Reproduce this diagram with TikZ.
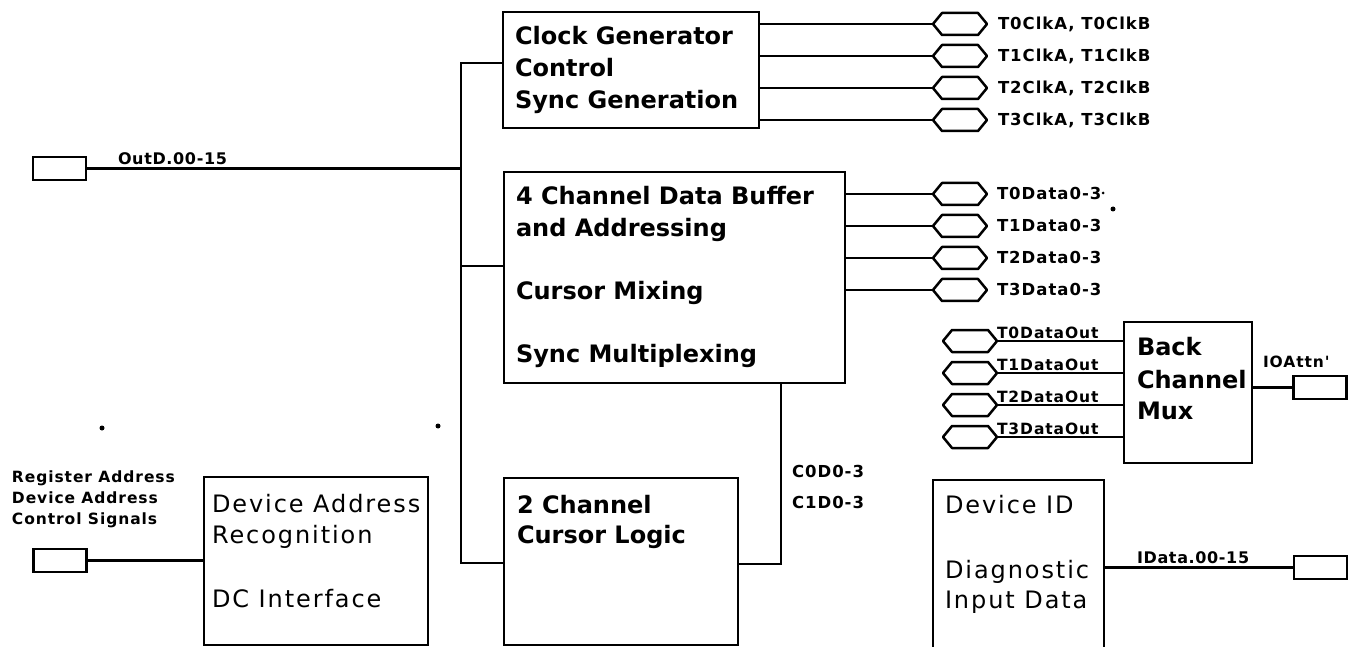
\documentclass[tikz,border=0pt]{standalone}
\usepackage{fontspec}
\setmainfont{DejaVu Sans}
\newfontfamily\wideboxfont{DejaVu Sans}[LetterSpace=8]
\newfontfamily\sigfont{DejaVu Sans}[LetterSpace=6]
\newfontfamily\busfont{DejaVu Sans}[LetterSpace=4]
\usetikzlibrary{calc}

\tikzset{
  every node/.style={inner sep=0pt, outer sep=0pt},
  blk/.style={draw, line width=2.8pt},
  wire/.style={line width=2.8pt},
  hexline/.style={line width=2.5pt, line join=round},
  hexp/.style={minimum width=54pt, minimum height=22pt},
  port/.style={draw, line width=2.4pt, minimum width=53pt, minimum height=23pt},
  boxbold/.style={anchor=base west, font={\bfseries\fontsize{24}{24}\selectfont}},
  boxreg/.style={anchor=base west, font={\wideboxfont\fontsize{24}{24}\selectfont}},
  siglbl/.style={anchor=base west, font={\sigfont\bfseries\fontsize{16.5}{17}\selectfont}},
  smalllbl/.style={anchor=base west, font={\sigfont\bfseries\fontsize{15.5}{16}\selectfont}},
  buslbl/.style={anchor=base west, font={\busfont\bfseries\fontsize{16}{16}\selectfont}},
  speck/.style={fill=black, circle, minimum size=5pt}
}

\begin{document}
\begin{tikzpicture}[x=1pt, y=-1pt]
\useasboundingbox (0,0) rectangle (1353,647);
\clip (0,0) rectangle (1353,647);

% ---------- function blocks ----------
\node[blk, minimum width=256pt, minimum height=116pt] (clk) at (631,70) {};
\node[blk, minimum width=341pt, minimum height=211pt] (buf) at (674.5,277.5) {};
\node[blk, minimum width=234pt, minimum height=167pt] (cur) at (621,561.5) {};
\node[blk, minimum width=224pt, minimum height=168pt] (dev) at (316,561) {};
\node[blk, minimum width=128pt, minimum height=141pt] (back) at (1188,392.5) {};
\node[blk, minimum width=171pt, minimum height=180pt] (devid) at (1018.5,570) {};

% ---------- block texts ----------
\node[boxbold] (clkA) at (515,45)  {Clock Generator};
\node[boxbold] (clkB) at (515,77)  {Control};
\node[boxbold] (clkC) at (515,109) {Sync Generation};

\node[boxbold] (bufA) at (516,205) {4 Channel Data Buffer};
\node[boxbold] (bufB) at (516,237) {and Addressing};
\node[boxbold] (bufC) at (516,300) {Cursor Mixing};
\node[boxbold] (bufD) at (516,362) {Sync Multiplexing};

\node[boxbold] (curA) at (517,513) {2 Channel};
\node[boxbold] (curB) at (517,543) {Cursor Logic};

\node[boxreg] (devA) at (212,512) {Device Address};
\node[boxreg] (devB) at (212,543) {Recognition};
\node[boxreg] (devC) at (212,607) {DC Interface};

\node[boxbold] (backA) at (1137,355) {Back};
\node[boxbold] (backB) at (1137,388) {Channel};
\node[boxbold] (backC) at (1137,419) {Mux};

\node[boxreg] (idA) at (945,513) {Device ID};
\node[boxreg] (idB) at (945,578) {Diagnostic};
\node[boxreg] (idC) at (945,608) {Input Data};

% ---------- board connectors ----------
\node[port] (outp) at (59.5,168.5) {};
\node[port] (devp) at (60,560.5) {};
\node[port] (iop)  at (1320,387.5) {};
\node[port] (idp)  at (1320.5,567.5) {};

% ---------- hexagonal signal ports ----------
\node[hexp] (c0) at (960,24) {};
\node[hexp] (c1) at (960,56) {};
\node[hexp] (c2) at (960,88) {};
\node[hexp] (c3) at (960,120) {};
\node[hexp] (d0) at (960,194) {};
\node[hexp] (d1) at (960,226) {};
\node[hexp] (d2) at (960,258) {};
\node[hexp] (d3) at (960,290) {};
\node[hexp] (b0) at (970,341) {};
\node[hexp] (b1) at (970,373) {};
\node[hexp] (b2) at (970,405) {};
\node[hexp] (b3) at (970,437) {};
\foreach \h in {c0,c1,c2,c3,d0,d1,d2,d3,b0,b1,b2,b3}
  \draw[hexline] (\h.west) -- ($(\h.north west)+(9,0)$) -- ($(\h.north east)+(-9,0)$)
    -- (\h.east) -- ($(\h.south east)+(-9,0)$) -- ($(\h.south west)+(9,0)$) -- cycle;

% ---------- internal bus ----------
\coordinate (bustop) at (461,63);
\coordinate (busdat) at (461,266);
\coordinate (busbot) at (461,563);
\draw[wire] (clk.west |- bustop) -- (bustop) -- (busbot) -- (cur.west |- busbot);
\draw[wire] (busdat) -- (buf.west |- busdat);
\draw[wire] (outp.east) -- (outp.east -| bustop);

% cursor data back into the buffer
\coordinate (cdturn) at (781,564);
\draw[wire] (buf.south -| cdturn) -- (cdturn) -- (cur.east |- cdturn);

% clock and data outputs
\foreach \h in {c0,c1,c2,c3}
  \draw[wire] (clk.east |- \h.west) -- (\h.west);
\foreach \h in {d0,d1,d2,d3}
  \draw[wire] (buf.east |- \h.west) -- (\h.west);
% back channel inputs
\foreach \h in {b0,b1,b2,b3}
  \draw[wire] (\h.east) -- (back.west |- \h.east);

\draw[wire] (devp.east) -- (dev.west |- devp.east);
\draw[wire] (back.east |- iop.west) -- (iop.west);
\draw[wire] (devid.east |- idp.west) -- (idp.west);

% ---------- signal labels ----------
\node[buslbl] (outdl) at (118,165) {OutD.00-15};
\node[buslbl] (idatl) at (1137,563) {IData.00-15};

\node[siglbl] (cl0) at (998,29.5)  {T0ClkA, T0ClkB};
\node[siglbl] (cl1) at (998,61.5)  {T1ClkA, T1ClkB};
\node[siglbl] (cl2) at (998,93.5)  {T2ClkA, T2ClkB};
\node[siglbl] (cl3) at (998,125.5) {T3ClkA, T3ClkB};

\node[siglbl] (dl0) at (997,199.5) {T0Data0-3};
\node[siglbl] (dl1) at (997,231.5) {T1Data0-3};
\node[siglbl] (dl2) at (997,263.5) {T2Data0-3};
\node[siglbl] (dl3) at (997,295.5) {T3Data0-3};

\node[smalllbl] (bl0) at (997,338.5) {T0DataOut};
\node[smalllbl] (bl1) at (997,370.5) {T1DataOut};
\node[smalllbl] (bl2) at (997,402.5) {T2DataOut};
\node[smalllbl] (bl3) at (997,434.5) {T3DataOut};

\node[smalllbl] (ioal) at (1263,367) {IOAttn'};

\node[siglbl] (cdl0) at (792,477) {C0D0-3};
\node[siglbl] (cdl1) at (792,508) {C1D0-3};

\node[smalllbl] (rgl0) at (12,482) {Register Address};
\node[smalllbl] (rgl1) at (12,503) {Device Address};
\node[smalllbl] (rgl2) at (12,524) {Control Signals};

% ---------- stray marks ----------
\node[speck] (sp1) at (102,428) {};
\node[speck] (sp2) at (438,426) {};
\node[speck] (sp3) at (1113,209) {};
\node[speck, minimum size=3pt] (sp4) at (1103,193) {};
\end{tikzpicture}
\end{document}
